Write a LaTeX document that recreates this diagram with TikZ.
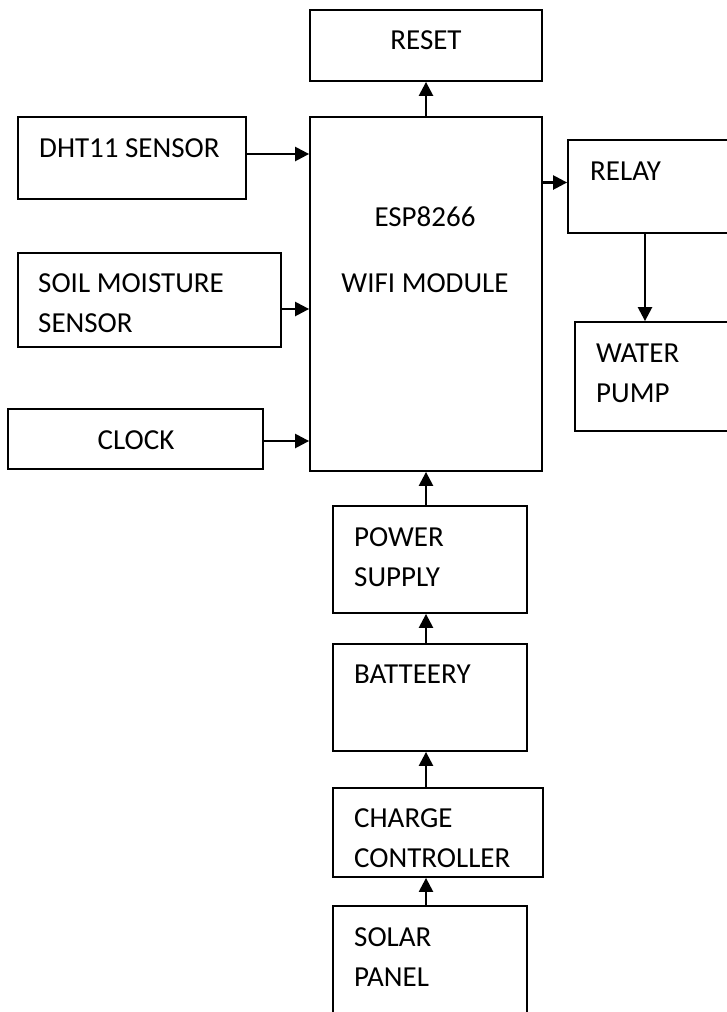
\documentclass[tikz,border=0pt]{standalone}
\usepackage{fontspec}
\setmainfont{Carlito}
\usetikzlibrary{arrows.meta}

\tikzset{
    block/.style={draw,line width=1.8pt,rectangle,inner sep=0pt},
    txt/.style={inner sep=0pt,align=left,font=\fontsize{29}{40}\selectfont},
    flow/.style={-{Triangle[length=14pt,width=14pt]},line width=2.4pt}
}

\begin{document}
\begin{tikzpicture}[x=1pt,y=-1pt]
    \useasboundingbox (0,0) rectangle (727,1012);
    \clip (0,0) rectangle (727,1012);

    % Blocks
    \node[block,minimum width=232,minimum height=71] (reset) at (426,45.5) {};
    \node[block,minimum width=232,minimum height=354] (esp) at (426,294) {};
    \node[block,minimum width=228,minimum height=82] (dht) at (132,158) {};
    \node[block,minimum width=263,minimum height=94] (soil) at (149.5,300) {};
    \node[block,minimum width=255,minimum height=60] (clock) at (135.5,439) {};
    \node[block,minimum width=192,minimum height=93] (relay) at (664,186.5) {};
    \node[block,minimum width=185,minimum height=109] (pump) at (667.5,376.5) {};
    \node[block,minimum width=194,minimum height=107] (power) at (430,559.5) {};
    \node[block,minimum width=194,minimum height=107] (battery) at (430,697.5) {};
    \node[block,minimum width=210,minimum height=89] (charge) at (438,832.5) {};
    \node[block,minimum width=194,minimum height=134] (solar) at (430,973) {};

    % Labels
    \node[txt] (resettext) at (426,40) {RESET};
    \node[txt] (esptext) at (425,217) {ESP8266};
    \node[txt] (wifitext) at (425,283) {WIFI MODULE};
    \node[txt,anchor=west] (dhttext) at (39,148) {DHT11 SENSOR};
    \node[txt,anchor=west] (soiltext) at (38,303.5) {SOIL MOISTURE\\SENSOR};
    \node[txt] (clocktext) at (136,440) {CLOCK};
    \node[txt,anchor=west] (relaytext) at (590,171) {RELAY};
    \node[txt,anchor=west] (pumptext) at (596,373) {WATER\\PUMP};
    \node[txt,anchor=west] (powertext) at (354,557) {POWER\\SUPPLY};
    \node[txt,anchor=west] (batterytext) at (354,674) {BATTEERY};
    \node[txt,anchor=west] (chargetext) at (354,838) {CHARGE\\CONTROLLER};
    \node[txt,anchor=west] (solartext) at (354,957) {SOLAR\\PANEL};

    % Inputs to the module
    \draw[flow] ([yshift=4]dht.east) -- ([yshift=4]dht.east -| esp.west);
    \draw[flow] ([yshift=-9]soil.east) -- ([yshift=-9]soil.east -| esp.west);
    \draw[flow] ([yshift=-2]clock.east) -- ([yshift=-2]clock.east -| esp.west);

    % Outputs
    \draw[flow] (esp.north) -- (reset.south);
    \draw[flow] ([yshift=4]relay.west -| esp.east) -- ([yshift=4]relay.west);
    \draw[flow] ([xshift=-19]relay.south) -- ([xshift=-19]relay.south |- pump.north);

    % Power chain
    \draw[flow] (esp.south |- power.north) -- (esp.south);
    \draw[flow] (esp.south |- battery.north) -- (esp.south |- power.south);
    \draw[flow] (esp.south |- charge.north) -- (esp.south |- battery.south);
    \draw[flow] (esp.south |- solar.north) -- (esp.south |- charge.south);
\end{tikzpicture}
\end{document}
